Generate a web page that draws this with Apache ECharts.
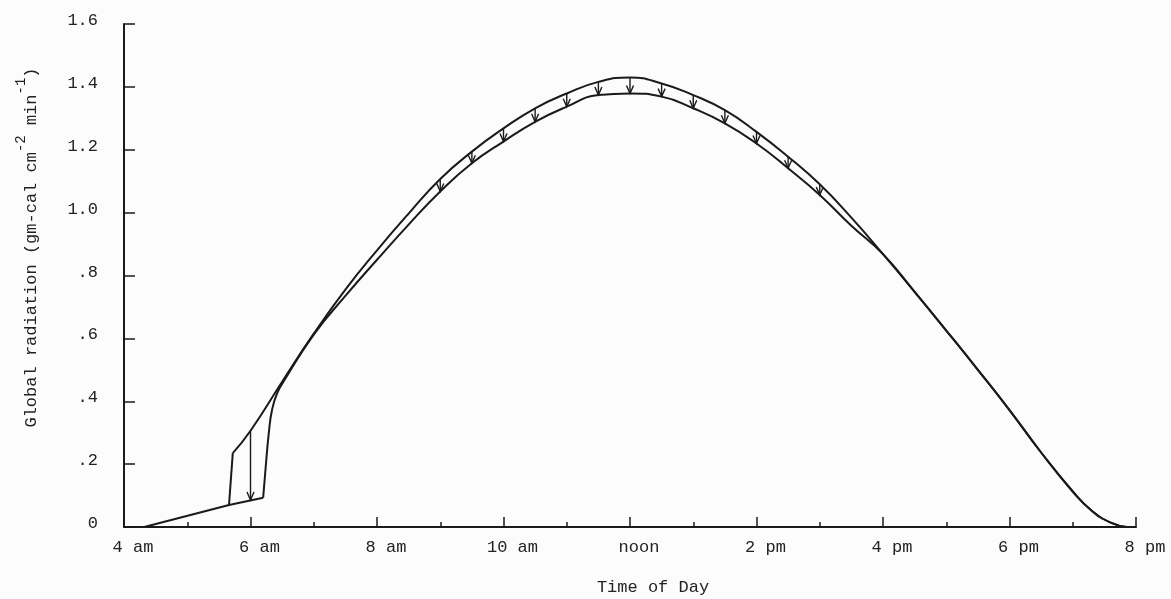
<!DOCTYPE html>
<html>
<head>
<meta charset="utf-8">
<script src="https://cdn.jsdelivr.net/npm/echarts@6/dist/echarts.min.js"></script>
<style>
html,body{margin:0;padding:0;background:#fcfcfc;}
#chart{width:1171px;height:599px;}
</style>
</head>
<body>
<div id="chart"></div>
<script>
// ---- data (hours of day, radiation in gm-cal cm^-2 min^-1) ----
const upperTime  = [4.32, 5.66, 5.72, 6.0, 6.5, 7.0, 7.5, 8.0, 8.5, 9.0, 9.5, 10.0, 10.5, 11.0, 11.5, 12.0, 12.5, 13.0, 13.5, 14.0, 14.5, 15.0, 15.5, 16.0, 16.5, 17.0, 17.5, 18.0, 18.5, 19.0, 19.3, 19.6, 19.85];
const upperValue = [0, 0.07, 0.235, 0.306, 0.462, 0.615, 0.755, 0.88, 0.997, 1.107, 1.194, 1.268, 1.332, 1.379, 1.416, 1.43, 1.411, 1.374, 1.326, 1.257, 1.178, 1.09, 0.984, 0.868, 0.748, 0.625, 0.5, 0.372, 0.237, 0.113, 0.052, 0.014, 0];

const lowerTime  = [4.32, 5.66, 6.2, 6.24, 6.29, 6.34, 6.42, 6.53, 7.0, 7.5, 8.0, 8.5, 9.0, 9.5, 10.0, 10.5, 11.0, 11.5, 12.0, 12.5, 13.0, 13.5, 14.0, 14.5, 15.0, 15.5, 16.0, 16.5, 17.0, 17.5, 18.0, 18.5, 19.0, 19.3, 19.6, 19.85];
const lowerValue = [0, 0.07, 0.093, 0.19, 0.3, 0.372, 0.425, 0.465, 0.612, 0.735, 0.85, 0.962, 1.067, 1.157, 1.226, 1.289, 1.337, 1.374, 1.379, 1.369, 1.332, 1.284, 1.22, 1.141, 1.056, 0.958, 0.868, 0.748, 0.625, 0.5, 0.372, 0.237, 0.113, 0.052, 0.014, 0];

const arrowTime = [6.0, 9.0, 9.5, 10.0, 10.5, 11.0, 11.5, 12.0, 12.5, 13.0, 13.5, 14.0, 14.5, 15.0];
const arrowFrom = [0.306, 1.107, 1.194, 1.268, 1.332, 1.379, 1.416, 1.43, 1.411, 1.374, 1.326, 1.257, 1.178, 1.09];
const arrowTo   = [0.086, 1.067, 1.157, 1.226, 1.289, 1.337, 1.374, 1.379, 1.369, 1.332, 1.284, 1.22, 1.141, 1.056];

const xTickLabels = ['4 am', '6 am', '8 am', '10 am', 'noon', '2 pm', '4 pm', '6 pm', '8 pm'];
const yTickLabels = ['0', '.2', '.4', '.6', '.8', '1.0', '1.2', '1.4', '1.6'];

// ---- chart ----
const FONT = '"Liberation Mono", "DejaVu Sans Mono", monospace';
const INK = '#1a1a1a';
const TXT = '#222';
const FS = 17;

const pairs = (ts, vs) => ts.map((t, i) => [t, vs[i]]);
const upperPts = pairs(upperTime, upperValue);
const lowerPts = pairs(lowerTime, lowerValue);

// straight pieces (pre-dawn ramp and the sharp step), smooth pieces for the rest
const dawnLine  = lowerPts.slice(0, 3);
const upperJump = upperPts.slice(1, 3);
const upperMain = upperPts.slice(2);
const lowerMain = lowerPts.slice(2);

const lineBase = {type: 'line', showSymbol: false, lineStyle: {color: INK, width: 2}, z: 3};

const chart = echarts.init(document.getElementById('chart'), null, {renderer: 'canvas'});

const option = {
  backgroundColor: '#fcfcfc',
  animation: false,
  grid: {left: 124, right: 35, top: 24, bottom: 72, containLabel: false, outerBoundsMode: 'none'},
  xAxis: {
    type: 'value', min: 4, max: 20, interval: 2,
    name: 'Time of Day', nameLocation: 'middle', nameGap: 52,
    nameTextStyle: {fontFamily: FONT, fontSize: FS, color: TXT, padding: [0, 0, 0, 46]},
    axisLine: {show: true, onZero: false, lineStyle: {color: INK, width: 2}},
    axisTick: {show: true, inside: true, length: 10, lineStyle: {color: INK, width: 1.5}},
    minorTick: {show: true, splitNumber: 2, length: 5, lineStyle: {color: INK, width: 1.5}},
    splitLine: {show: false},
    minorSplitLine: {show: false},
    axisLabel: {
      margin: 12, fontFamily: FONT, fontSize: FS, color: TXT, padding: [0, 0, 0, 18],
      formatter: v => xTickLabels[Math.round((v - 4) / 2)]
    }
  },
  yAxis: {
    type: 'value', min: 0, max: 1.6, interval: 0.2,
    name: '{a|Global radiation (gm-cal cm}{s|-2}{a| min}{s|-1}{a|)}',
    nameLocation: 'middle', nameGap: 84, nameRotate: 90,
    nameTextStyle: {
      padding: [0, 0, 0, 56],
      rich: {
        a: {fontFamily: FONT, fontSize: FS, color: TXT, lineHeight: 26, verticalAlign: 'bottom'},
        s: {fontFamily: FONT, fontSize: 14, color: TXT, lineHeight: 26, verticalAlign: 'top'}
      }
    },
    axisLine: {show: true, lineStyle: {color: INK, width: 2}},
    axisTick: {show: true, inside: true, length: 11, lineStyle: {color: INK, width: 1.5}},
    splitLine: {show: false},
    axisLabel: {
      margin: 26, fontFamily: FONT, fontSize: FS, color: TXT,
      verticalAlign: 'bottom', lineHeight: 7,
      formatter: v => yTickLabels[Math.round(v / 0.2)]
    }
  },
  series: [
    Object.assign({name: 'dawn', smooth: false, data: dawnLine}, lineBase),
    Object.assign({name: 'upper step', smooth: false, data: upperJump}, lineBase),
    Object.assign({name: 'upper', smooth: 0.5, data: upperMain}, lineBase),
    Object.assign({name: 'lower', smooth: 0.5, data: lowerMain}, lineBase),
    {
      name: 'arrows', type: 'custom',
      encode: {x: 0, y: [1, 2]},
      data: arrowTime.map((t, i) => [t, arrowFrom[i], arrowTo[i]]),
      renderItem: function (params, api) {
        const x = api.value(0);
        const p1 = api.coord([x, api.value(1)]);
        const p2 = api.coord([x, api.value(2)]);
        return {
          type: 'group',
          children: [
            {type: 'line', shape: {x1: p1[0], y1: p1[1], x2: p2[0], y2: p2[1]},
             style: {stroke: INK, lineWidth: 1.4}},
            {type: 'polyline', shape: {points: [[p2[0] - 3.5, p2[1] - 8], [p2[0], p2[1]], [p2[0] + 3.5, p2[1] - 8]]},
             style: {stroke: INK, lineWidth: 1.4, fill: null}}
          ]
        };
      }
    }
  ]
};
chart.setOption(option);
</script>
</body>
</html>
